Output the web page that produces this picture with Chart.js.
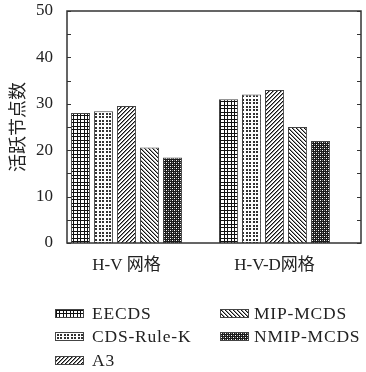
<!DOCTYPE html>
<html>
<head>
<meta charset="utf-8">
<script src="https://cdn.jsdelivr.net/npm/chart.js@4/dist/chart.umd.min.js"></script>
<style>
  body{margin:0;background:#fff}
  #wrap{position:relative;width:366px;height:372px}
  #box{position:absolute;left:0;top:0;width:366px;height:285px}
  #leg{position:absolute;left:0;top:0;width:366px;height:372px;font:17.5px "Liberation Serif",serif;letter-spacing:0.8px;color:#222}
  .it{position:absolute;height:20px;display:flex;align-items:center;white-space:nowrap}
  .it canvas{border:1px solid #444;box-sizing:border-box}
</style>
</head>
<body>
<div id="wrap">
  <div id="box"><canvas id="grafico"></canvas></div>
  <div id="leg"></div>
</div>
<script>
const categories  = ['H-V 网格', 'H-V-D网格'];
const seriesNames = ['EECDS', 'CDS-Rule-K', 'A3', 'MIP-MCDS', 'NMIP-MCDS'];
const eecds    = [28, 31];
const cdsRuleK = [28.4, 32];
const a3       = [29.5, 33];
const mipMcds  = [20.6, 25];
const nmipMcds = [18.4, 22];
const yTicks   = [0, 10, 20, 30, 40, 50];

const FONT = '"Liberation Serif", "Noto Sans CJK SC", serif';

// small pattern tiles
function tile(n, draw){
  const c = document.createElement('canvas');
  c.width = n; c.height = n;
  const g = c.getContext('2d');
  g.fillStyle = '#fff'; g.fillRect(0,0,n,n);
  g.fillStyle = '#111';
  draw(g, n);
  return c;
}
const tiles = [
  tile(7, (g)=>{ g.fillRect(0,0,7,1); g.fillRect(0,3,7,1); g.fillRect(0,0,1,7); g.fillRect(3,0,1,7); }),
  tile(7, (g)=>{ g.fillStyle='#333'; [[1,1],[4,1],[1,4],[4,4]].forEach(p=>g.fillRect(p[0],p[1],2,2)); }),
  tile(4, (g)=>{ for(let i=0;i<4;i++) g.fillRect(i,3-i,1,1); g.fillStyle='#888'; for(let i=0;i<4;i++) g.fillRect((i+1)%4,3-i,1,1); }),
  tile(4, (g)=>{ for(let i=0;i<4;i++) g.fillRect(i,i,1,1); g.fillStyle='#999'; for(let i=0;i<4;i++) g.fillRect((i+1)%4,i,1,1); }),
  tile(4, (g)=>{ g.fillStyle='#1a1a1a'; g.fillRect(0,0,4,4); g.fillStyle='#fff'; g.fillRect(0,0,1,1); g.fillRect(2,2,1,1); g.fillStyle='#888'; g.fillRect(2,0,1,1); g.fillRect(0,2,1,1); })
];

const ctx = document.getElementById('grafico');
const ctx2d = ctx.getContext('2d');
const patterns = tiles.map(t => ctx2d.createPattern(t, 'repeat'));

const allSeries = [eecds, cdsRuleK, a3, mipMcds, nmipMcds];
const datasets = allSeries.map((vals, k) => ({
  label: seriesNames[k],
  data: vals.map((v, i) => ({x: i + 1, y: v})),
  backgroundColor: patterns[k],
  borderColor: '#444',
  borderWidth: 1,
  categoryPercentage: 0.777,
  barPercentage: 0.83
}));

const frame = {
  id: 'frame',
  afterDatasetsDraw(chart){
    const {ctx, chartArea: a, scales: {y}} = chart;
    ctx.save();
    ctx.strokeStyle = '#333';
    ctx.lineWidth = 1.5;
    ctx.strokeRect(a.left, a.top, a.right - a.left, a.bottom - a.top);
    ctx.lineWidth = 1;
    ctx.beginPath();
    for(let v = 0; v <= 50; v += 5){
      const py = Math.round(y.getPixelForValue(v)) + 0.5;
      ctx.moveTo(a.left, py);  ctx.lineTo(a.left + 4, py);
      ctx.moveTo(a.right, py); ctx.lineTo(a.right - 4, py);
    }
    ctx.stroke();
    ctx.restore();
  }
};

new Chart(ctx, {
  type: 'bar',
  data: {datasets},
  plugins: [frame],
  options: {
    responsive: true,
    maintainAspectRatio: false,
    animation: false,
    layout: {padding: {left: 0, right: 5, top: 11, bottom: 0}},
    plugins: {legend: {display: false}, tooltip: {enabled: false}},
    scales: {
      x: {
        type: 'linear',
        offset: false,
        min: 0.598, max: 2.584,
        grid: {display: false, drawTicks: false, offset: false},
        border: {display: false},
        afterBuildTicks: s => { s.ticks = categories.map((c, i) => ({value: i + 1})); },
        afterFit: s => { s.height = 42; s.paddingLeft = 0; s.paddingRight = 0; },
        ticks: {
          padding: 12,
          autoSkip: false,
          maxRotation: 0,
          color: '#222',
          font: {family: FONT, size: 17},
          callback: v => categories[v - 1]
        }
      },
      y: {
        min: 0, max: 50,
        grid: {display: false, drawTicks: false},
        border: {display: false},
        afterBuildTicks: s => { s.ticks = yTicks.map(v => ({value: v})); },
        afterFit: s => { s.width = 67; s.paddingTop = 0; s.paddingBottom = 0; },
        title: {
          display: true,
          text: '活跃节点数',
          color: '#222',
          padding: {top: 6, bottom: 0},
          font: {family: '"Noto Sans CJK SC", sans-serif', size: 18}
        },
        ticks: {
          padding: 14,
          color: '#222',
          font: {family: FONT, size: 17}
        }
      }
    }
  }
});

// legend, two columns filled top to bottom
const leg = document.getElementById('leg');
const colX = [55, 220];
const colGap = [8, 5];
const rowY = [313, 336, 360];
seriesNames.forEach((name, k) => {
  const col = Math.floor(k / 3), row = k % 3;
  const it = document.createElement('div');
  it.className = 'it';
  it.style.left = colX[col] + 'px';
  it.style.top = (rowY[row] - 10) + 'px';
  const sw = document.createElement('canvas');
  sw.width = 27; sw.height = 7;
  sw.style.marginRight = colGap[col] + 'px';
  const g = sw.getContext('2d');
  g.fillStyle = g.createPattern(tiles[k], 'repeat');
  g.fillRect(0, 0, 27, 7);
  it.appendChild(sw);
  it.appendChild(document.createTextNode(name));
  leg.appendChild(it);
});
</script>
</body>
</html>
